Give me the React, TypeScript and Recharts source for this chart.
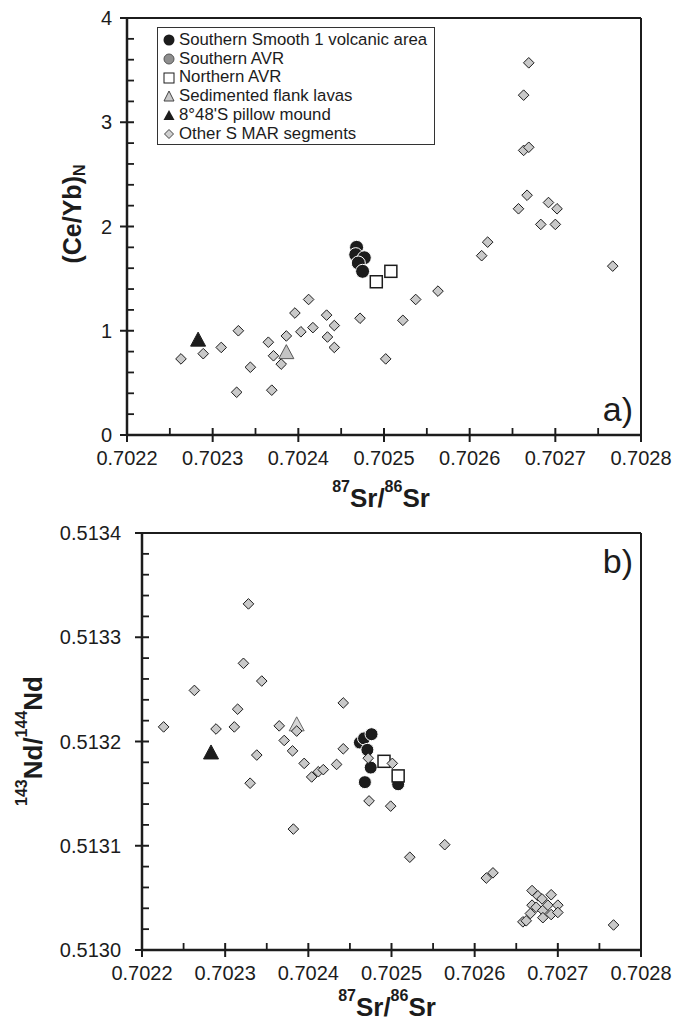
import React from 'react';
import { ScatterChart, Scatter, XAxis, YAxis, ReferenceLine } from 'recharts';

// x axis (87Sr/86Sr), shared by both panels
const srTicks = [0.7022, 0.70225, 0.7023, 0.70235, 0.7024, 0.70245, 0.7025, 0.70255, 0.7026, 0.70265, 0.7027, 0.70275, 0.7028];
const srMajor = [0.7022, 0.7023, 0.7024, 0.7025, 0.7026, 0.7027, 0.7028];
const srLabels = ['0.7022', '0.7023', '0.7024', '0.7025', '0.7026', '0.7027', '0.7028'];

// panel a y axis
const ceybTicks = [0, 0.2, 0.4, 0.6, 0.8, 1, 1.2, 1.4, 1.6, 1.8, 2, 2.2, 2.4, 2.6, 2.8, 3, 3.2, 3.4, 3.6, 3.8, 4];
const ceybMajor = [0, 1, 2, 3, 4];
const ceybLabels = ['0', '1', '2', '3', '4'];

// panel b y axis
const ndTicks = [0.513, 0.51302, 0.51304, 0.51306, 0.51308, 0.5131, 0.51312, 0.51314, 0.51316, 0.51318, 0.5132, 0.51322, 0.51324, 0.51326, 0.51328, 0.5133, 0.51332, 0.51334, 0.51336, 0.51338, 0.5134];
const ndMajor = [0.513, 0.5131, 0.5132, 0.5133, 0.5134];
const ndLabels = ['0.5130', '0.5131', '0.5132', '0.5133', '0.5134'];

// panel a: (Ce/Yb)N vs 87Sr/86Sr
const aOtherSr = [0.702263, 0.702289, 0.70231, 0.70233, 0.702328, 0.702344, 0.702365, 0.702371, 0.702369, 0.70238, 0.702386, 0.702396, 0.702403, 0.702412, 0.702417, 0.702433, 0.702434, 0.702442, 0.702442, 0.702472, 0.702502, 0.702522, 0.702537, 0.702563, 0.702614, 0.702621, 0.702657, 0.702667, 0.702663, 0.702669, 0.702663, 0.702669, 0.702683, 0.702692, 0.702702, 0.7027, 0.702767];
const aOtherCeyb = [0.73, 0.78, 0.84, 1.0, 0.41, 0.65, 0.89, 0.76, 0.43, 0.68, 0.95, 1.17, 0.99, 1.3, 1.03, 1.15, 0.94, 1.05, 0.84, 1.12, 0.73, 1.1, 1.3, 1.38, 1.72, 1.85, 2.17, 2.3, 3.26, 3.57, 2.73, 2.76, 2.02, 2.23, 2.17, 2.02, 1.62];
const aSmoothSr = [0.702468, 0.702467, 0.702477, 0.70247, 0.702475];
const aSmoothCeyb = [1.8, 1.73, 1.7, 1.65, 1.57];
const aNorthSr = [0.702491, 0.702508];
const aNorthCeyb = [1.47, 1.57];
const aFlankSr = [0.702386];
const aFlankCeyb = [0.79];
const aMoundSr = [0.702283];
const aMoundCeyb = [0.91];

// panel b: 143Nd/144Nd vs 87Sr/86Sr
const bOtherSr = [0.702226, 0.702263, 0.702289, 0.702311, 0.702315, 0.702322, 0.702328, 0.70233, 0.702338, 0.702344, 0.702365, 0.702371, 0.702381, 0.702382, 0.702386, 0.702395, 0.702404, 0.702412, 0.702418, 0.702434, 0.702442, 0.702442, 0.702472, 0.702473, 0.702499, 0.702501, 0.702522, 0.702564, 0.702614, 0.702622, 0.702669, 0.702676, 0.702681, 0.702692, 0.702669, 0.702674, 0.702682, 0.702688, 0.7027, 0.702667, 0.702682, 0.702692, 0.7027, 0.702658, 0.702662, 0.702767];
const bOtherNd = [0.513214, 0.513249, 0.513212, 0.513214, 0.513231, 0.513275, 0.513332, 0.51316, 0.513187, 0.513258, 0.513215, 0.513201, 0.513191, 0.513116, 0.51321, 0.513179, 0.513166, 0.513171, 0.513173, 0.513178, 0.513237, 0.513193, 0.513184, 0.513143, 0.513138, 0.513179, 0.513089, 0.513101, 0.513069, 0.513074, 0.513057, 0.513052, 0.513049, 0.513053, 0.513043, 0.513041, 0.513038, 0.513043, 0.513043, 0.513035, 0.513031, 0.513034, 0.513036, 0.513027, 0.513028, 0.513024];
const bSmoothSr = [0.702462, 0.702467, 0.702476, 0.702471, 0.702475, 0.702468, 0.702508];
const bSmoothNd = [0.513199, 0.513203, 0.513207, 0.513192, 0.513175, 0.513161, 0.513159];
const bNorthSr = [0.702491, 0.702508];
const bNorthNd = [0.513181, 0.513167];
const bFlankSr = [0.702386];
const bFlankNd = [0.513216];
const bMoundSr = [0.702283];
const bMoundNd = [0.513189];

const legendItems = [
  'Southern Smooth 1 volcanic area',
  'Southern AVR',
  'Northern AVR',
  'Sedimented flank lavas',
  "8°48'S pillow mound",
  'Other S MAR segments',
];

const FONT = '"Liberation Sans", Arial, Helvetica, sans-serif';
const INK = '#1c1c1c';

const pts = (xs: number[], ys: number[]) => xs.map((x, i) => ({ x, y: ys[i] }));

const idxOf = (arr: number[], v: number) => arr.findIndex((m) => Math.abs(m - v) < 1e-9);

const makeYTick = (majors: number[], labels: string[], gap: number) => (props: any) => {
  const { x, y, payload } = props;
  const i = idxOf(majors, payload.value);
  if (i < 0) return <line x1={x} x2={x + 7} y1={y} y2={y} stroke={INK} strokeWidth={1.8} />;
  return (
    <g>
      <line x1={x - 7} x2={x + 7} y1={y} y2={y} stroke={INK} strokeWidth={2} />
      <text x={x - gap} y={y + 7} textAnchor="end" fontSize={20} fontFamily={FONT} fill={INK}>
        {labels[i]}
      </text>
    </g>
  );
};

const xTick = (props: any) => {
  const { x, y, payload } = props;
  const i = idxOf(srMajor, payload.value);
  if (i < 0) return <line x1={x} x2={x} y1={y - 7} y2={y} stroke={INK} strokeWidth={1.8} />;
  return (
    <g>
      <line x1={x} x2={x} y1={y - 7} y2={y + 7} stroke={INK} strokeWidth={2} />
      <text x={x} y={y + 30} textAnchor="middle" fontSize={20} fontFamily={FONT} fill={INK}>
        {srLabels[i]}
      </text>
    </g>
  );
};

const diamond = (p: any) => (
  <path
    d={`M${p.cx},${p.cy - 5.3} L${p.cx + 5.3},${p.cy} L${p.cx},${p.cy + 5.3} L${p.cx - 5.3},${p.cy} Z`}
    fill="#c9c9c9"
    stroke={INK}
    strokeWidth={1}
  />
);
const blackDot = (r: number) => (p: any) => <circle cx={p.cx} cy={p.cy} r={r} fill={INK} stroke="#fff" strokeWidth={1} />;
const openSquare = (p: any) => (
  <rect x={p.cx - 6} y={p.cy - 6} width={12} height={12} fill="#fff" stroke={INK} strokeWidth={1.5} />
);
const tri = (fill: string, stroke: string) => (p: any) => (
  <path
    d={`M${p.cx},${p.cy - 8} L${p.cx + 7.5},${p.cy + 6} L${p.cx - 7.5},${p.cy + 6} Z`}
    fill={fill}
    stroke={stroke}
    strokeWidth={1}
  />
);

const LegendIcon = ({ i }: { i: number }) => (
  <svg width={12} height={12} style={{ marginRight: 4, flex: 'none' }}>
    {i === 0 && <circle cx={6} cy={6} r={5.5} fill={INK} />}
    {i === 1 && <circle cx={6} cy={6} r={5} fill="#8e8e8e" stroke="#555" strokeWidth={1} />}
    {i === 2 && <rect x={1} y={1} width={10} height={10} fill="#fff" stroke={INK} strokeWidth={1} />}
    {i === 3 && <path d="M6,1 L11,11 L1,11 Z" fill="#c9c9c9" stroke="#444" strokeWidth={1} />}
    {i === 4 && <path d="M6,1 L11.5,11 L0.5,11 Z" fill={INK} />}
    {i === 5 && <path d="M6,1.5 L10.5,6 L6,10.5 L1.5,6 Z" fill="#d0d0d0" stroke="#444" strokeWidth={1} />}
  </svg>
);

const Legend = () => (
  <div
    style={{
      position: 'absolute',
      left: 157,
      top: 27,
      width: 278,
      height: 118,
      boxSizing: 'border-box',
      border: '1px solid #333',
      background: '#fff',
      padding: '3px 0 0 5px',
      fontFamily: FONT,
      fontSize: 16.8,
      lineHeight: '18.7px',
      color: INK,
    }}
  >
    {legendItems.map((t, i) => (
      <div key={t} style={{ display: 'flex', alignItems: 'center', whiteSpace: 'nowrap' }}>
        <LegendIcon i={i} />
        <span>{t}</span>
      </div>
    ))}
  </div>
);

const axisLine = { stroke: INK, strokeWidth: 2.5 };

const SrTitle = ({ x, y }: { x: number; y: number }) => (
  <text x={x} y={y} textAnchor="middle" fontFamily={FONT} fontWeight="bold" fill={INK}>
    <tspan fontSize={16} dy={-15}>87</tspan>
    <tspan fontSize={26} dy={15}>Sr/</tspan>
    <tspan fontSize={16} dy={-15}>86</tspan>
    <tspan fontSize={26} dy={15}>Sr</tspan>
  </text>
);

export default function App() {
  return (
    <div style={{ position: 'absolute', left: 0, top: 0, width: 674, height: 1023, background: '#fff', fontFamily: FONT }}>
      {/* panel a */}
      <div style={{ position: 'absolute', left: 0, top: 0, width: 674, height: 510 }}>
        <ScatterChart width={674} height={510} margin={{ top: 18, right: 33, bottom: 0, left: 0 }}>
          <XAxis
            type="number"
            dataKey="x"
            domain={[0.7022, 0.7028]}
            ticks={srTicks}
            interval={0}
            height={75}
            tickSize={0}
            tickMargin={0}
            tickLine={false}
            axisLine={axisLine}
            tick={xTick}
          />
          <YAxis
            type="number"
            dataKey="y"
            domain={[0, 4]}
            ticks={ceybTicks}
            interval={0}
            width={127}
            tickSize={0}
            tickMargin={0}
            tickLine={false}
            axisLine={axisLine}
            tick={makeYTick(ceybMajor, ceybLabels, 15)}
          />
          <ReferenceLine y={4} stroke={INK} strokeWidth={2} />
          <ReferenceLine x={0.7028} stroke={INK} strokeWidth={2} />
          <Scatter name="Southern Smooth 1 volcanic area" data={pts(aSmoothSr, aSmoothCeyb)} shape={blackDot(7)} isAnimationActive={false} />
          <Scatter name="Northern AVR" data={pts(aNorthSr, aNorthCeyb)} shape={openSquare} isAnimationActive={false} />
          <Scatter name="Sedimented flank lavas" data={pts(aFlankSr, aFlankCeyb)} shape={tri('#c4c4c4', '#555')} isAnimationActive={false} />
          <Scatter name="8°48'S pillow mound" data={pts(aMoundSr, aMoundCeyb)} shape={tri(INK, INK)} isAnimationActive={false} />
          <Scatter name="Other S MAR segments" data={pts(aOtherSr, aOtherCeyb)} shape={diamond} isAnimationActive={false} />
        </ScatterChart>
        <Legend />
      </div>

      {/* panel b */}
      <div style={{ position: 'absolute', left: 0, top: 510, width: 674, height: 513 }}>
        <ScatterChart width={674} height={513} margin={{ top: 23, right: 33, bottom: 0, left: 0 }}>
          <XAxis
            type="number"
            dataKey="x"
            domain={[0.7022, 0.7028]}
            ticks={srTicks}
            interval={0}
            height={73}
            tickSize={0}
            tickMargin={0}
            tickLine={false}
            axisLine={axisLine}
            tick={xTick}
          />
          <YAxis
            type="number"
            dataKey="y"
            domain={[0.513, 0.5134]}
            ticks={ndTicks}
            interval={0}
            width={142}
            tickSize={0}
            tickMargin={0}
            tickLine={false}
            axisLine={axisLine}
            tick={makeYTick(ndMajor, ndLabels, 21)}
          />
          <ReferenceLine y={0.5134} stroke={INK} strokeWidth={2} />
          <ReferenceLine x={0.7028} stroke={INK} strokeWidth={2} />
          <Scatter name="Southern Smooth 1 volcanic area" data={pts(bSmoothSr, bSmoothNd)} shape={blackDot(6.5)} isAnimationActive={false} />
          <Scatter name="Northern AVR" data={pts(bNorthSr, bNorthNd)} shape={openSquare} isAnimationActive={false} />
          <Scatter name="Sedimented flank lavas" data={pts(bFlankSr, bFlankNd)} shape={tri('#d6d6d6', '#666')} isAnimationActive={false} />
          <Scatter name="8°48'S pillow mound" data={pts(bMoundSr, bMoundNd)} shape={tri(INK, INK)} isAnimationActive={false} />
          <Scatter name="Other S MAR segments" data={pts(bOtherSr, bOtherNd)} shape={diamond} isAnimationActive={false} />
        </ScatterChart>
      </div>

      {/* axis titles and panel letters, one page-sized layer */}
      <svg width={674} height={1023} style={{ position: 'absolute', left: 0, top: 0, pointerEvents: 'none' }}>
        <text transform="rotate(-90 81 214)" x={81} y={214} textAnchor="middle" fontFamily={FONT} fontWeight="bold" fill={INK}>
          <tspan fontSize={25}>(Ce/Yb)</tspan>
          <tspan fontSize={16} dy={4}>N</tspan>
        </text>
        <SrTitle x={381} y={507} />
        <text x={633} y={421} textAnchor="end" fontFamily={FONT} fontSize={34} fill={INK}>a)</text>

        <text transform="rotate(-90 42 741)" x={42} y={741} textAnchor="middle" fontFamily={FONT} fontWeight="bold" fill={INK}>
          <tspan fontSize={16} dy={-15}>143</tspan>
          <tspan fontSize={26} dy={15}>Nd/</tspan>
          <tspan fontSize={16} dy={-15}>144</tspan>
          <tspan fontSize={26} dy={15}>Nd</tspan>
        </text>
        <SrTitle x={387} y={1016} />
        <text x={633} y={573} textAnchor="end" fontFamily={FONT} fontSize={34} fill={INK}>b)</text>
      </svg>
    </div>
  );
}
